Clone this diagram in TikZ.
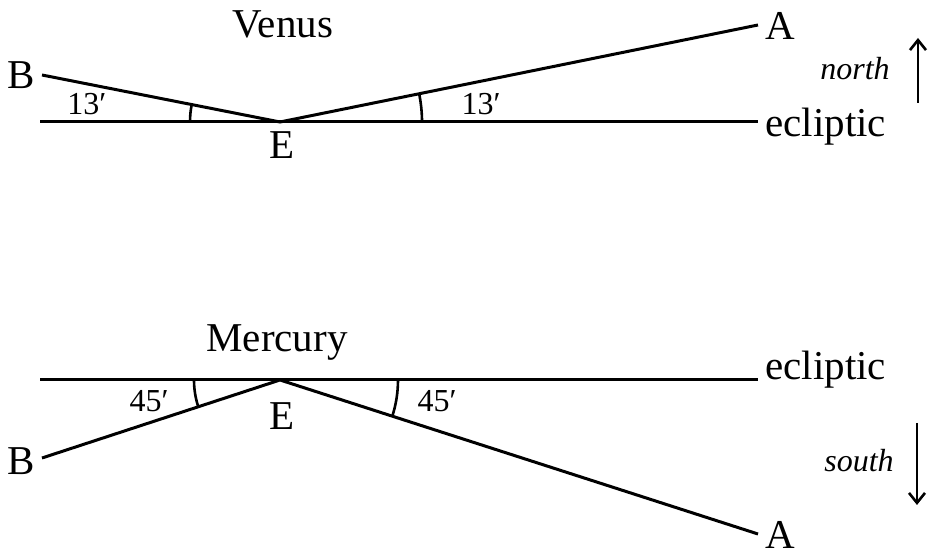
\documentclass[tikz,border=0pt]{standalone}
\usepackage{fontspec}
\setmainfont{Liberation Serif}
\usetikzlibrary{arrows.meta}

\begin{document}
\begin{tikzpicture}[x=0.5pt,y=0.5pt,>={Straight Barb[length=5pt,width=8pt]},
 lbl/.style={inner sep=0pt,font=\fontsize{20.5}{22}\selectfont},
 ang/.style={inner sep=0pt,font=\fontsize{16}{18}\selectfont},
 dirn/.style={inner sep=0pt,font=\fontsize{16}{18}\selectfont\itshape},
 ray/.style={line width=1.5pt},
 arcl/.style={line width=1.3pt}]
\useasboundingbox (0,0) rectangle (928,556);
% Venus, above the ecliptic
\coordinate (E1) at (280,434);
\coordinate (B1) at (42,481);
\coordinate (A1) at (758,531);
\coordinate (L1) at (40,434);
\coordinate (R1) at (758,434);
\draw[ray] (L1) -- (R1);
\draw[ray] (B1) -- (E1) -- (A1);
\draw[arcl] (E1) ++(180:90) arc[start angle=180,end angle=168.83,radius=90];
\draw[arcl] (E1) ++(0:142) arc[start angle=0,end angle=11.47,radius=142];
\node[lbl,anchor=base] (venus) at (283,518) {Venus};
\node[lbl,anchor=east] (b1) at ([xshift=-3.5pt]B1) {B};
\node[lbl,anchor=west] (a1) at ([xshift=3.5pt,yshift=-0.5pt]A1) {A};
\node[lbl] (e1) at (282,411) {E};
\node[lbl,anchor=base west] (ecl1) at (765,419) {ecliptic};
\node[ang,anchor=base] (t1) at (87,441) {13′};
\node[ang,anchor=base] (t2) at (481,441) {13′};
\node[dirn,anchor=base] (north) at (855,476) {north};
\coordinate (n0) at (918,453);
\coordinate (n1) at (918,518);
\draw[->,arcl] (n0) -- (n1);
% Mercury, below the ecliptic
\coordinate (E2) at (280,176);
\coordinate (B2) at (42,98);
\coordinate (A2) at (758,22);
\coordinate (L2) at (40,176);
\coordinate (R2) at (758,176);
\draw[ray] (L2) -- (R2);
\draw[ray] (B2) -- (E2) -- (A2);
\draw[arcl] (E2) ++(180:86) arc[start angle=180,end angle=198.15,radius=86];
\draw[arcl] (E2) ++(0:118) arc[start angle=0,end angle=-17.97,radius=118];
\node[lbl,anchor=base] (mercury) at (277,204) {Mercury};
\node[lbl,anchor=east] (b2) at ([xshift=-3.5pt,yshift=-1.5pt]B2) {B};
\node[lbl,anchor=west] (a2) at ([xshift=3.5pt,yshift=-0.5pt]A2) {A};
\node[lbl] (e2) at (282,140) {E};
\node[lbl,anchor=base west] (ecl2) at (765,176) {ecliptic};
\node[ang,anchor=base] (f1) at (149,144) {45′};
\node[ang,anchor=base] (f2) at (437,144) {45′};
\node[dirn,anchor=base] (south) at (859,84) {south};
\coordinate (s0) at (917,133);
\coordinate (s1) at (917,51);
\draw[->,arcl] (s0) -- (s1);
\end{tikzpicture}
\end{document}
